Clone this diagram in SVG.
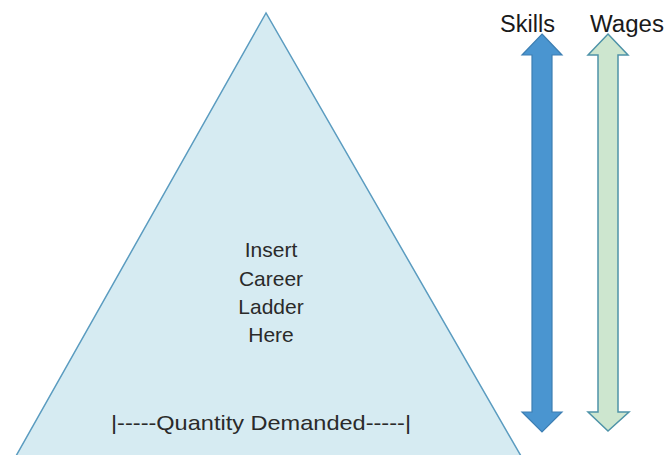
<svg xmlns="http://www.w3.org/2000/svg" width="665" height="455" viewBox="0 0 665 455">
<style>
text{font-family:"Liberation Sans",Arial,sans-serif;fill:#1a1a1a}
.lbl{font-size:23px}
.mid{font-size:21px;text-anchor:middle;fill:#2a2a2a}
</style>
<rect width="665" height="455" fill="#ffffff"/>
<g id="pyramid">
<polygon points="266,13 16,456 521,456" fill="#d6ebf2" stroke="#5b9cc0" stroke-width="1.5"/>
<text class="mid" x="271" y="257">Insert</text>
<text class="mid" x="271" y="286">Career</text>
<text class="mid" x="271" y="314">Ladder</text>
<text class="mid" x="271" y="342">Here</text>
<text class="mid" x="261" y="430" font-size="22" textLength="300" lengthAdjust="spacingAndGlyphs">|-----Quantity Demanded-----|</text>
</g>
<g id="skills">
<polygon points="542,34 562,55 552,55 552,412 562,412 542,432 522,412 532,412 532,55 522,55" fill="#4a95d0" stroke="#3d7fb3" stroke-width="1.2"/>
<text class="lbl" x="500" y="32" textLength="55" lengthAdjust="spacingAndGlyphs">Skills</text>
</g>
<g id="wages">
<polygon points="608,34 628,55 618,55 618,412 629,412 608,431 588,412 598,412 598,55 588,55" fill="#cde6cf" stroke="#4e93a8" stroke-width="1.5"/>
<text class="lbl" x="590" y="32" textLength="74" lengthAdjust="spacingAndGlyphs">Wages</text>
</g>
<g id="connectors"></g>
</svg>
